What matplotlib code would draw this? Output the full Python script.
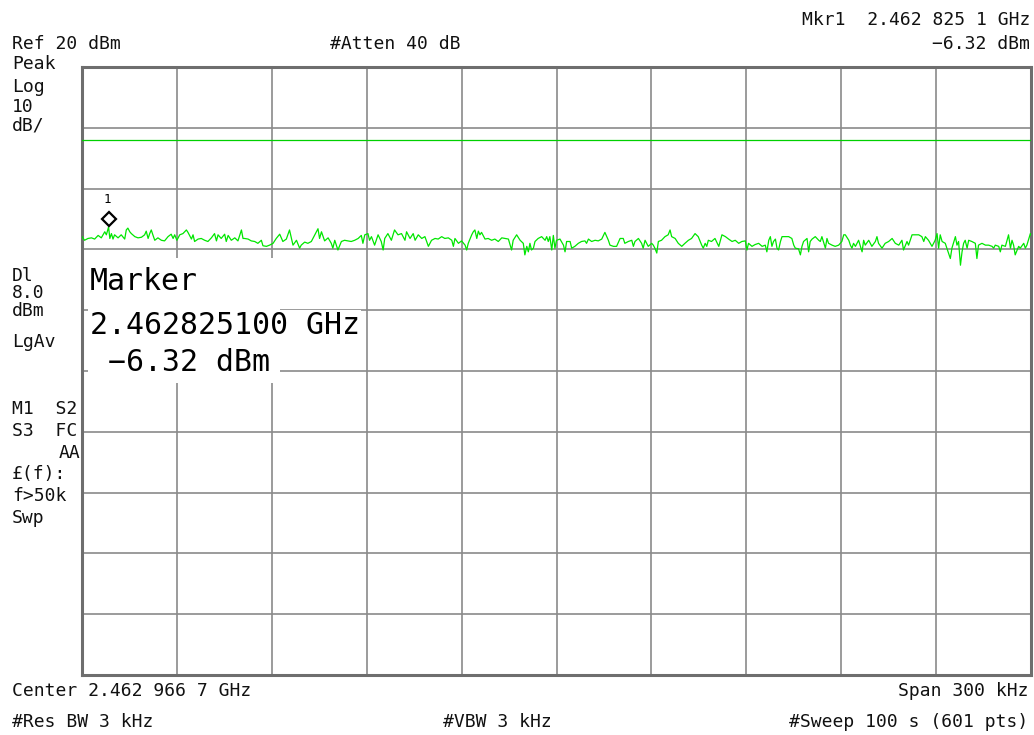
import matplotlib.pyplot as plt
from matplotlib.patches import Rectangle
from matplotlib.transforms import offset_copy

# Sweep data: offset from start frequency (kHz) and level (dBm)
trace_khz = [
    0.0, 0.8, 1.9, 3.0, 4.0, 5.1, 6.1, 7.2, 7.7, 8.4, 8.8, 9.3, 9.8, 10.3, 11.4, 12.4,
    13.5, 14.0, 14.5, 15.1, 15.6, 16.7, 17.7, 18.8, 19.8, 20.3, 20.9, 21.4, 21.9, 22.4,
    23.0, 24.0, 25.1, 26.1, 27.2, 28.2, 28.8, 29.3, 30.0, 30.9, 31.9, 33.0, 33.5, 34.6,
    35.1, 35.6, 36.7, 37.7, 38.8, 39.8, 40.9, 41.9, 42.5, 43.0, 44.0, 45.1, 45.6, 46.2,
    47.2, 48.3, 49.3, 50.4, 50.9, 51.4, 52.5, 53.5, 54.6, 55.6, 56.7, 57.2, 58.3, 59.3,
    60.4, 61.4, 62.5, 63.5, 64.6, 65.6, 66.2, 66.7, 67.8, 68.8, 69.3, 70.4, 71.4, 72.5,
    73.6, 74.6, 75.1, 75.7, 76.7, 77.8, 78.8, 79.3, 79.9, 80.9, 82.0, 83.0, 84.1, 85.1,
    86.2, 87.3, 88.3, 88.8, 89.4, 90.4, 90.9, 91.5, 92.5, 93.6, 94.6, 95.2, 95.7, 96.7,
    97.8, 98.8, 99.9,
    101.0, 102.1, 102.6, 103.7, 104.7, 105.3, 106.3, 107.4, 108.4, 109.5, 110.5, 111.6,
    112.6, 113.7, 114.7, 115.8, 116.9, 117.4, 117.9, 119.0, 120.0, 121.1, 121.6, 122.1,
    123.2, 123.7, 124.2, 124.8, 125.3, 125.8, 126.3, 127.4, 128.4, 129.5, 130.5, 131.6,
    132.7, 133.7, 134.8, 135.8, 136.3, 137.4, 138.5, 139.5, 140.0, 140.6, 141.1, 141.6,
    142.1, 142.7, 143.2, 144.2, 145.3, 146.4, 146.9, 147.4, 147.9, 148.5, 149.0, 149.5,
    150.0, 151.1, 152.2, 152.7, 153.2, 154.3, 154.8, 155.8, 156.9, 157.9, 159.0, 159.5,
    160.1, 161.1, 162.2, 163.2, 164.3, 165.3, 166.4, 166.9, 168.0, 169.0, 170.1, 171.1,
    171.6, 172.7, 173.8, 174.3, 174.8, 175.9, 176.9, 177.4, 178.0, 179.0, 180.1, 180.6,
    181.1, 181.7, 182.2, 183.2, 184.3, 185.3, 185.9, 186.4, 187.5, 188.5, 189.6, 190.6,
    191.7, 192.7, 193.8, 194.8, 195.9, 196.4, 197.0, 197.5, 198.0, 199.0, 200.1,
    201.3, 202.3, 203.4, 204.4, 205.5, 206.5, 207.6, 208.6, 209.7, 210.2, 210.7, 211.8,
    212.8, 213.9, 215.0, 216.0, 216.5, 217.1, 217.6, 218.1, 218.6, 219.2, 219.7, 220.2,
    220.8, 221.3, 222.3, 223.4, 224.4, 225.0, 225.5, 226.5, 227.1, 227.6, 228.1, 229.2,
    229.7, 230.2, 230.8, 231.8, 232.9, 233.4, 233.9, 235.0, 235.5, 236.0, 237.1, 238.1,
    239.2, 240.2, 240.8, 241.3, 242.4, 242.9, 243.4, 243.9, 244.5, 245.5, 246.6, 247.1,
    247.6, 248.7, 249.7, 250.8, 251.3, 251.8, 252.9, 253.9, 255.0, 256.1, 257.1, 258.2,
    259.2, 259.7, 260.8, 261.3, 262.4, 263.4, 264.5, 265.5, 266.1, 266.6, 267.6, 268.7,
    269.7, 270.3, 270.8, 271.3, 271.9, 272.9, 273.4, 274.5, 275.0, 276.1, 276.6, 277.1,
    277.7, 278.2, 278.7, 279.2, 279.8, 280.3, 281.3, 282.4, 282.9, 283.4, 284.5, 285.6,
    286.6, 287.7, 288.2, 288.7, 289.8, 290.3, 290.8, 291.9, 292.9, 293.5, 294.0, 294.5,
    295.0, 296.1, 296.6, 297.7, 298.2, 298.7, 299.8, 300.0,
]
trace_dbm = [
    -7.9, -8.5, -8.2, -8.1, -8.3, -7.7, -8.1, -7.1, -7.6, -6.32, -8.2, -7.4, -8.3, -7.6, -8.1, -7.6,
    -8.3, -6.8, -6.5, -7.1, -7.4, -7.9, -8.1, -8.0, -7.6, -7.0, -8.2, -7.4, -6.8, -7.6,
    -8.5, -8.1, -8.5, -8.6, -7.9, -7.5, -8.2, -7.6, -8.5, -7.6, -7.4, -6.8, -7.2, -8.3,
    -7.6, -8.7, -8.3, -8.2, -8.5, -8.7, -8.1, -7.4, -8.6, -7.6, -8.2, -7.5, -8.7, -7.7,
    -8.5, -8.1, -8.6, -6.8, -8.2, -8.2, -8.3, -8.6, -8.7, -9.0, -8.5, -9.4, -9.5, -9.3,
    -9.0, -8.2, -7.5, -8.7, -8.3, -6.8, -8.2, -9.3, -8.5, -9.8, -9.3, -8.8, -9.0, -8.7,
    -7.6, -6.6, -8.2, -7.1, -8.6, -8.1, -9.0, -9.8, -8.5, -10.1, -8.7, -8.5, -8.6, -8.7,
    -8.5, -8.2, -7.7, -9.0, -7.6, -7.4, -8.5, -7.9, -9.3, -7.6, -8.7, -10.1, -8.2, -7.4,
    -8.5, -6.8, -7.6,
    -7.4, -8.5, -7.1, -8.2, -7.4, -8.5, -7.6, -8.2, -7.9, -9.5, -8.5, -8.2,
    -8.3, -7.9, -8.2, -8.1, -8.5, -9.5, -8.2, -9.0, -8.6, -9.3, -10.1, -9.0,
    -7.6, -7.1, -6.8, -8.2, -7.0, -7.6, -7.2, -8.3, -8.2, -8.5, -8.3, -8.7,
    -8.1, -8.2, -8.3, -10.1, -8.5, -7.6, -8.5, -9.0, -10.9, -9.5, -10.4, -9.0,
    -10.1, -9.8, -8.7, -8.2, -7.9, -8.5, -7.9, -8.7, -7.9, -10.1, -7.7, -9.8,
    -8.5, -8.3, -9.3, -10.4, -8.7, -8.7, -9.8, -9.5, -9.0, -8.7, -8.6, -9.0,
    -8.3, -8.7, -8.5, -8.6, -8.3, -7.2, -8.5, -9.3, -9.5, -9.5, -8.2, -8.2,
    -9.0, -8.7, -8.5, -9.5, -8.7, -8.2, -9.0, -9.8, -8.5, -9.5, -9.0, -9.3,
    -9.8, -10.6, -8.7, -8.5, -7.9, -7.6, -6.8, -7.9, -8.2, -9.0, -9.5, -9.0,
    -8.5, -8.2, -7.4, -7.9, -9.3, -9.8, -9.0, -9.5, -8.5, -8.7, -8.2,
    -9.5, -7.6, -7.9, -8.3, -8.7, -8.5, -9.0, -8.7, -8.6, -10.1, -9.0, -9.5,
    -9.2, -9.0, -9.5, -9.3, -10.4, -8.5, -7.9, -9.5, -8.7, -8.3, -9.8, -10.1,
    -8.7, -7.9, -7.9, -7.9, -8.2, -9.3, -9.8, -9.9, -10.9, -9.5, -8.7, -8.2,
    -10.4, -8.7, -8.3, -7.9, -8.5, -8.7, -7.9, -9.8, -8.2, -9.0, -9.3, -9.5,
    -9.3, -8.7, -7.6, -7.6, -8.5, -9.3, -9.8, -9.0, -9.5, -8.5, -10.4, -8.5,
    -9.3, -8.5, -9.5, -8.7, -7.9, -9.0, -9.8, -9.0, -8.7, -8.2, -9.0, -9.3,
    -8.5, -10.1, -8.7, -9.3, -7.6, -7.6, -7.6, -7.9, -8.7, -7.9, -8.5, -9.5,
    -8.5, -7.4, -9.8, -7.6, -8.7, -9.0, -9.8, -11.5, -9.8, -7.9, -9.3, -8.7,
    -12.6, -10.4, -9.0, -8.5, -9.8, -8.5, -8.7, -9.0, -11.5, -9.3, -9.0, -9.3,
    -9.3, -9.5, -9.8, -9.3, -9.5, -10.4, -9.3, -9.5, -7.6, -9.8, -8.5, -9.3,
    -10.9, -9.5, -9.8, -9.0, -9.8, -9.3, -7.4, -7.6,
]

ref_level = 20
db_per_div = 10
span_khz = 300
display_line = 8.0
marker_khz = 8.4
marker_dbm = -6.32

W, H = 1034, 735
fig = plt.figure(figsize=(W / 100, H / 100), dpi=100)
plt.rcParams['font.family'] = ['DejaVu Sans Mono']

# graticule area in pixels
left, right, top, bottom = 82, 1031, 67, 675
ax = fig.add_axes([left / W, 1 - bottom / H, (right - left) / W, (bottom - top) / H])
ax.set_xlim(0, span_khz)
ax.set_ylim(ref_level - 10 * db_per_div, ref_level)
ax.set_xticks(range(0, span_khz + 1, span_khz // 10))
ax.set_yticks(range(ref_level - 10 * db_per_div, ref_level + 1, db_per_div))
ax.tick_params(length=0, labelbottom=False, labelleft=False)
ax.grid(True, color='#8a8a8a', linewidth=1.2)
ax.set_axisbelow(True)
for s in ax.spines.values():
    s.set_color('#6e6e6e')
    s.set_linewidth(2.2)

ax.axhline(display_line, color='#00d000', linewidth=0.9, zorder=3)
ax.plot(trace_khz, trace_dbm, color='#00e600', linewidth=0.9, zorder=4)

# marker diamond sits just above the trace point
mk_tr = offset_copy(ax.transData, fig=fig, x=0, y=6, units='points')
ax.plot([marker_khz], [marker_dbm], marker='D', markersize=7.5, markerfacecolor='white',
        markeredgecolor='black', markeredgewidth=1.6, transform=mk_tr, zorder=6)
lbl_tr = offset_copy(ax.transData, fig=fig, x=-1, y=15, units='points')
ax.text(marker_khz, marker_dbm, '1', transform=lbl_tr, fontsize=9, ha='center',
        va='bottom', zorder=6)

# white box behind marker readout
ax.add_patch(Rectangle((1.9, -32.0), 60.7, 20.6, facecolor='white', edgecolor='none',
                       zorder=2))
big = dict(fontsize=21.5, va='center', ha='left', zorder=5)
fig.text(90 / W, 1 - 282 / H, 'Marker', **big)
fig.text(90 / W, 1 - 326 / H, '2.462825100 GHz',
         bbox=dict(facecolor='white', edgecolor='none', pad=1), **big)
fig.text(90 / W, 1 - 362 / H, ' \u22126.32 dBm', **big)


def put(x, y, s, ha='left', **kw):
    fig.text(x / W, 1 - y / H, s, ha=ha, va='center', fontsize=13, color='#111111', **kw)


put(1030, 20, 'Mkr1  2.462 825 1 GHz', ha='right')
put(1030, 44, '\u22126.32 dBm', ha='right')
put(12, 44, 'Ref 20 dBm')
put(330, 44, '#Atten 40 dB')

put(12, 64, 'Peak')
put(12, 87, 'Log')
put(12, 107, '10')
put(12, 126, 'dB/')
put(12, 276, 'Dl')
put(12, 293, '8.0')
put(12, 311, 'dBm')
put(12, 342, 'LgAv')
put(12, 409, 'M1  S2')
put(12, 431, 'S3  FC')
put(80, 453, 'AA', ha='right')
put(12, 474, '\u00a3(f):')
put(12, 496, 'f>50k')
put(12, 518, 'Swp')

put(12, 691, 'Center 2.462 966 7 GHz')
put(1028, 691, 'Span 300 kHz', ha='right')
put(12, 722, '#Res BW 3 kHz')
put(443, 722, '#VBW 3 kHz')
put(1028, 722, '#Sweep 100 s (601 pts)', ha='right')

fig.savefig('out.png', dpi=100, facecolor='white')
